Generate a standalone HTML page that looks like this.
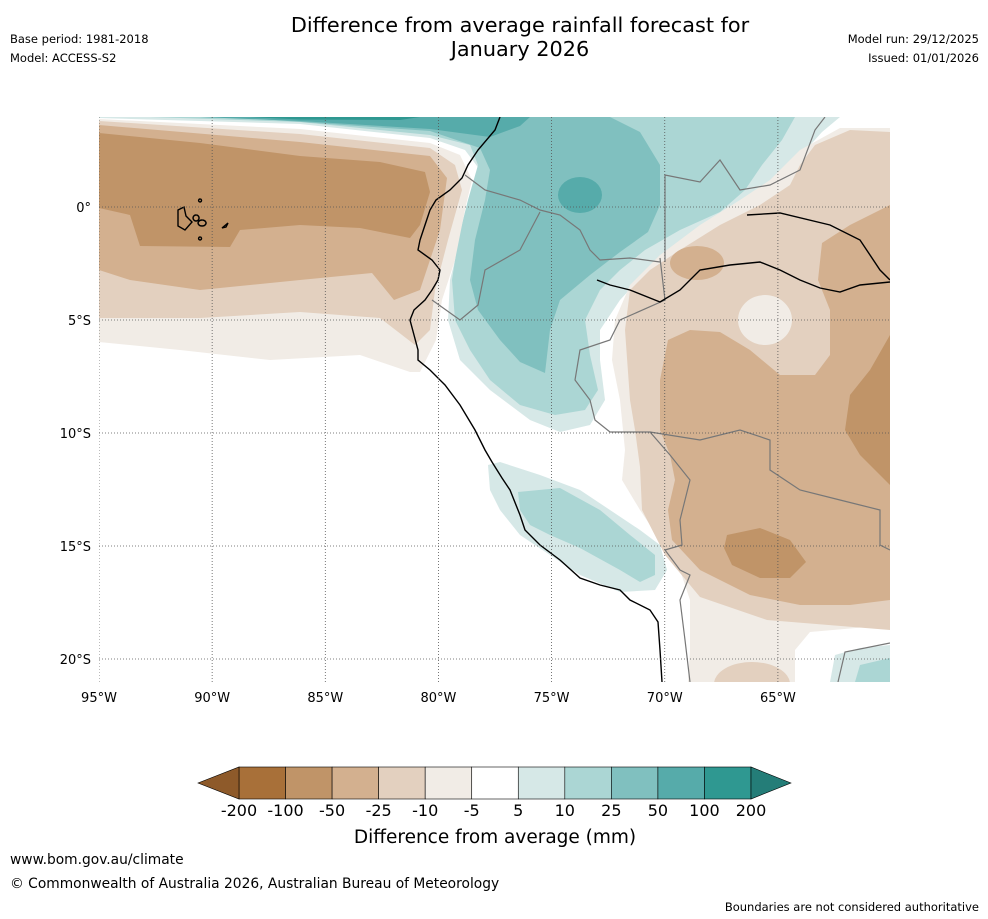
<!DOCTYPE html>
<html><head><meta charset="utf-8"><style>
body{margin:0;background:#fff;width:988px;height:919px;overflow:hidden;font-family:"DejaVu Sans",sans-serif;}
.t{position:absolute;color:#000;}
</style></head><body>
<div class="t" style="left:0;width:1040px;top:13px;text-align:center;font-size:20.8px;line-height:24px;">Difference from average rainfall forecast for<br>January 2026</div>
<div class="t" style="left:10px;top:32px;font-size:11.5px;">Base period: 1981-2018</div>
<div class="t" style="left:10px;top:51px;font-size:11.5px;">Model: ACCESS-S2</div>
<div class="t" style="right:9px;top:32px;font-size:11.5px;text-align:right;">Model run: 29/12/2025</div>
<div class="t" style="right:9px;top:51px;font-size:11.5px;text-align:right;">Issued: 01/01/2026</div>
<div class="t" style="left:10px;top:852px;font-size:13.8px;">www.bom.gov.au/climate</div>
<div class="t" style="left:10px;top:876px;font-size:13.8px;">© Commonwealth of Australia 2026, Australian Bureau of Meteorology</div>
<div class="t" style="right:9px;top:900px;font-size:11.5px;">Boundaries are not considered authoritative</div>

<svg id="svg" width="988" height="919" style="position:absolute;left:0;top:0" xmlns="http://www.w3.org/2000/svg">
<defs><clipPath id="mc"><rect x="99" y="117" width="791" height="565"/></clipPath></defs>
<g id="map" clip-path="url(#mc)">
<rect x="99" y="117" width="791" height="565" fill="#fff"/>
<path fill="#d6e8e7" d="M99,117 L99,118 L300,124 L430,138 L465,150 L480,170 L470,200 L460,240 L450,280 L448,320 L460,360 L490,390 L530,420 L560,432 L590,425 L605,400 L600,360 L600,330 L620,300 L650,268 L690,238 L730,215 L765,192 L795,162 L822,132 L840,117 Z"/>
<path fill="#abd6d4" d="M150,117 L300,122 L430,135 L470,145 L478,165 L468,200 L458,240 L452,280 L455,320 L470,350 L490,380 L520,405 L555,415 L585,410 L598,390 L590,355 L585,320 L600,290 L620,270 L645,250 L680,230 L720,212 L745,190 L762,165 L782,140 L795,117 Z"/>
<path fill="#80c0bf" d="M230,117 L330,124 L430,131 L480,148 L490,170 L485,200 L475,240 L470,280 L478,310 L500,340 L520,362 L545,373 L550,330 L560,300 L590,275 L620,252 L648,232 L660,205 L660,165 L640,132 L610,117 Z"/>
<path fill="#56abaa" d="M200,117 L300,121 L430,129 L490,137 L520,126 L530,117 Z"/>
<path fill="#2f9891" d="M250,117 L300,119.5 L400,120 L420,117 Z"/>
<ellipse cx="580" cy="195" rx="22" ry="18" fill="#56abaa"/>
<path fill="#f1ece6" d="M99,119 L300,129 L430,143 L460,155 L472,180 L466,205 L455,260 L442,300 L436,340 L420,372 L410,372 L360,355 L270,360 L180,350 L99,342 Z"/>
<path fill="#e3d0bf" d="M99,121 L300,134 L430,148 L455,165 L462,190 L448,240 L435,290 L430,330 L415,345 L380,318 L300,312 L200,318 L99,318 Z"/>
<path fill="#d3b08f" d="M99,125 L300,142 L430,156 L447,178 L440,230 L420,290 L394,300 L372,273 L300,280 L200,290 L130,280 L99,270 Z"/>
<path fill="#c09468" d="M99,133 L200,143 L300,156 L380,162 L425,172 L430,192 L420,225 L410,238 L360,228 L300,225 L240,230 L230,247 L140,246 L130,215 L99,208 Z"/>
<path fill="#f1ece6" d="M890,128 L840,128 L800,150 L770,180 L740,200 L700,225 L660,255 L630,285 L615,320 L612,360 L620,400 L625,450 L622,480 L640,510 L660,540 L680,570 L690,600 L690,650 L688,682 L795,682 L795,650 L810,632 L890,625 Z"/>
<path fill="#e3d0bf" d="M890,132 L850,130 L815,145 L800,165 L790,185 L760,205 L720,225 L680,250 L650,270 L630,290 L625,330 L630,400 L635,430 L640,467 L642,510 L665,555 L700,597 L767,620 L890,630 Z"/>
<ellipse cx="752" cy="684" rx="38" ry="22" fill="#e3d0bf"/>
<ellipse cx="765" cy="320" rx="27" ry="25" fill="#f1ece6"/>
<path fill="#d3b08f" d="M890,205 L850,225 L822,243 L818,280 L830,310 L830,355 L815,375 L780,375 L750,350 L720,332 L690,330 L668,340 L660,380 L660,430 L670,455 L675,480 L668,510 L672,540 L700,570 L750,595 L800,605 L850,605 L890,600 Z"/>
<ellipse cx="697" cy="263" rx="27" ry="17" fill="#d3b08f"/>
<path fill="#c09468" d="M890,335 L870,370 L850,395 L845,430 L860,455 L890,485 Z"/>
<path fill="#c09468" d="M727,535 L760,528 L790,540 L806,562 L790,578 L760,578 L732,565 L724,548 Z"/>
<path fill="#d6e8e7" d="M488,465 L500,462 L540,475 L580,490 L610,510 L640,530 L660,545 L667,570 L655,590 L620,592 L580,575 L550,555 L520,535 L500,510 L490,490 Z"/>
<path fill="#abd6d4" d="M518,492 L560,488 L600,510 L630,535 L655,555 L655,575 L640,582 L620,570 L580,548 L550,535 L530,525 L520,510 Z"/>
<path fill="#d6e8e7" d="M830,682 L835,655 L860,648 L890,645 L890,682 Z"/>
<path fill="#abd6d4" d="M855,682 L860,665 L890,658 L890,682 Z"/>
<g fill="none" stroke="#777" stroke-width="1.2">
<path d="M465,175 L485,190 L520,200 L540,210 L560,215 L580,230 L590,250 L600,260 L630,258 L660,262"/>
<path d="M432,300 L460,320 L478,305 L485,270 L520,250 L540,212"/>
<path d="M660,258 L665,300 L620,320 L610,340 L580,350 L575,380 L590,400 L595,420 L610,432 L650,432 L670,455 L690,480 L680,520 L682,545 L665,550 L680,570 L690,575 L680,600 L685,640 L690,682"/>
<path d="M665,262 L665,175 L700,182 L720,160 L740,190 L770,185 L800,170 L815,130 L825,117"/>
<path d="M650,432 L700,440 L740,430 L770,440 L770,470 L800,490 L840,500 L880,510 L880,545 L890,550"/>
<path d="M838,682 L845,652 L890,643"/>
</g>
<g fill="none" stroke="#000" stroke-width="1.4">
<path d="M500,117 L495,130 L478,150 L468,165 L462,178 L450,190 L436,200 L430,210 L425,225 L420,240 L418,250 L432,260 L440,270 L438,280 L432,290 L425,300 L414,310 L410,320 L414,335 L418,350 L418,360 L430,370 L445,385 L460,405 L475,430 L485,450 L492,462 L502,478 L510,490 L520,515 L525,530 L540,545 L560,560 L580,578 L600,585 L620,590 L630,600 L650,610 L658,622 L660,650 L662,682"/>
<path d="M597,280 L610,285 L630,290 L660,302 L680,290 L700,270 L730,265 L760,262 L780,270 L800,280 L820,288 L840,292 L860,285 L890,282"/>
<path d="M747,215 L780,213 L830,225 L860,240 L880,270 L890,280"/>
<path d="M178,210 L184,207 L186,216 L192,222 L185,230 L178,226 Z M196,215 a3,3 0 1,0 0.1,0 M202,220 a4,3 0 1,0 0.1,0 M222,228 L228,223 L226,227 Z M200,237 a1.5,1.5 0 1,0 0.1,0 M200,199 a1.5,1.5 0 1,0 0.1,0"/>
</g>
<g id="grid" stroke="#555" stroke-width="0.8" stroke-dasharray="1,2" fill="none"></g>
</g>
<g id="axis" font-size="13" font-family="DejaVu Sans, sans-serif"></g>
<g id="cbar"></g>
<text x="495" y="843" text-anchor="middle" font-size="18.5" font-family="DejaVu Sans, sans-serif">Difference from average (mm)</text>
</svg>
<script>
const lonTicks=[-95,-90,-85,-80,-75,-70,-65];
const lonLabels=["95°W","90°W","85°W","80°W","75°W","70°W","65°W"];
const latTicks=[0,-5,-10,-15,-20];
const latLabels=["0°","5°S","10°S","15°S","20°S"];
const levelLabels=["-200","-100","-50","-25","-10","-5","5","10","25","50","100","200"];
const binColors=["#a87039","#c09468","#d3b08f","#e3d0bf","#f1ece6","#ffffff","#d6e8e7","#abd6d4","#80c0bf","#56abaa","#2f9891"];
const lowColor="#8e5a2a", highColor="#247d78";
const NS="http://www.w3.org/2000/svg";
const xLon=l=>99+(l+95)*22.63;
const yLat=l=>207-l*22.6;
const grid=document.getElementById('grid'), axis=document.getElementById('axis'), cb=document.getElementById('cbar');
function mk(tag,attrs,parent){const e=document.createElementNS(NS,tag);for(const k in attrs)e.setAttribute(k,attrs[k]);parent.appendChild(e);return e;}
lonTicks.forEach((l,i)=>{
  const ln=mk('line',{x1:xLon(l),x2:xLon(l),y1:117,y2:682},grid);
  
  
  const t=mk('text',{x:xLon(l),y:702,'text-anchor':'middle'},axis);
  t.textContent=lonLabels[i];
  
  
});
latTicks.forEach((l,i)=>{
  const ln=mk('line',{x1:99,x2:890,y1:yLat(l),y2:yLat(l)},grid);
  
  
  const t=mk('text',{x:91,y:yLat(l)+5,'text-anchor':'end'},axis);
  t.textContent=latLabels[i];
  
  
});
const cx0=239,cx1=751,cy=767,ch=32,bw=(cx1-cx0)/binColors.length;
binColors.forEach((c,i)=>{
  const r=mk('rect',{x:cx0+i*bw,y:cy,width:bw,height:ch,fill:c,stroke:'#000','stroke-width':0.6},cb);
  
  
});
const la=mk('polygon',{points:`${cx0-41},${cy+ch/2} ${cx0},${cy} ${cx0},${cy+ch}`,fill:lowColor,stroke:'#000','stroke-width':0.6},cb);


const ra=mk('polygon',{points:`${cx1+40},${cy+ch/2} ${cx1},${cy} ${cx1},${cy+ch}`,fill:highColor,stroke:'#000','stroke-width':0.6},cb);


levelLabels.forEach((s,i)=>{
  const t=mk('text',{x:cx0+i*bw,y:816,'text-anchor':'middle','font-size':16,'font-family':'DejaVu Sans, sans-serif'},cb);
  t.textContent=s;
  
  
});
</script>
</body></html>
